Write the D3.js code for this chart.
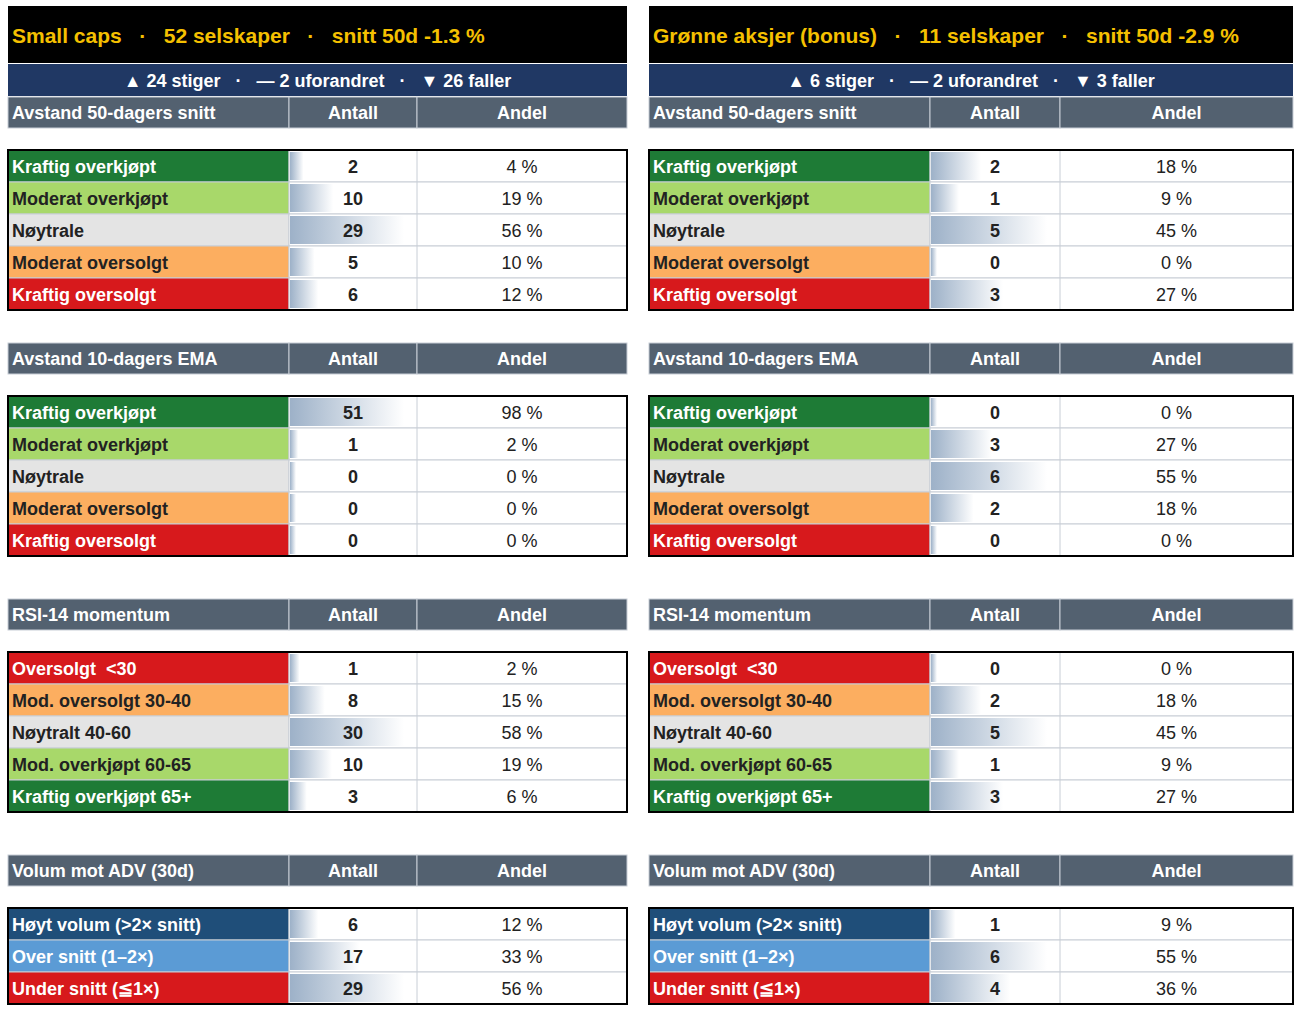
<!DOCTYPE html>
<html><head><meta charset="utf-8">
<script src="https://cdn.jsdelivr.net/npm/d3@7"></script>
<style>body{margin:0;background:#fff}text{font-family:"Liberation Sans",Arial,sans-serif}</style>
</head><body><svg id="c" width="1306" height="1036"></svg>
<script>
var titles = [
  ["Small caps", "52 selskaper", "snitt 50d -1.3 %"],
  ["Grønne aksjer (bonus)", "11 selskaper", "snitt 50d -2.9 %"]
]
var moves = [["▲ 24 stiger", "— 2 uforandret", "▼ 26 faller"], ["▲ 6 stiger", "— 2 uforandret", "▼ 3 faller"]]
var sectionNames = ["Avstand 50-dagers snitt", "Avstand 10-dagers EMA", "RSI-14 momentum", "Volum mot ADV (30d)"]
var labels50 = ["Kraftig overkjøpt", "Moderat overkjøpt", "Nøytrale", "Moderat oversolgt", "Kraftig oversolgt"]
var labelsRsi = ["Oversolgt  <30", "Mod. oversolgt 30-40", "Nøytralt 40-60", "Mod. overkjøpt 60-65", "Kraftig overkjøpt 65+"]
var labelsVol = ["Høyt volum (>2× snitt)", "Over snitt (1–2×)", "Under snitt (≦1×)"]
var colors50 = ["#1e7b36", "#a8d86a", "#e4e4e4", "#fcae60", "#d7191c"]
var colorsRsi = ["#d7191c", "#fcae60", "#e4e4e4", "#a8d86a", "#1e7b36"]
var colorsVol = ["#1f4e79", "#5b9bd5", "#d7191c"]
var leftCounts = [[2, 10, 29, 5, 6], [51, 1, 0, 0, 0], [1, 8, 30, 10, 3], [6, 17, 29]]
var leftPct = [[4, 19, 56, 10, 12], [98, 2, 0, 0, 0], [2, 15, 58, 19, 6], [12, 33, 56]]
var rightCounts = [[2, 1, 5, 0, 3], [0, 3, 6, 2, 0], [0, 2, 5, 1, 3], [1, 6, 4]]
var rightPct = [[18, 9, 45, 0, 27], [0, 27, 55, 18, 0], [0, 18, 45, 9, 27], [9, 55, 36]]

var sectionLabels = [labels50, labels50, labelsRsi, labelsVol]
var sectionColors = [colors50, colors50, colorsRsi, colorsVol]
var headerY = [97, 343, 599, 855]
var rowH = 32

var svg = d3.select("#c")
var grad = svg.append("defs").append("linearGradient").attr("id", "bg")
grad.append("stop").attr("offset", "0%").attr("stop-color", "#9db1c8")
grad.append("stop").attr("offset", "100%").attr("stop-color", "#fff")

var panels = [
  {x: [8, 289, 417, 627], counts: leftCounts, pct: leftPct},
  {x: [649, 930, 1060, 1293], counts: rightCounts, pct: rightPct}
]

panels.forEach((p, pi) => {
  var x0 = p.x[0], x3 = p.x[3]
  var g = svg.append("g")
  g.append("rect").attr("x", x0).attr("y", 6).attr("width", x3 - x0).attr("height", 57).attr("fill", "#000")
  var tt = g.append("text").attr("x", x0 + 4).attr("y", 43).attr("fill", "#f5c000")
    .style("font-size", "21px").style("font-weight", "bold").attr("xml:space", "preserve")
  tt.text(titles[pi].join("   ·   "))
  g.append("rect").attr("x", x0).attr("y", 64).attr("width", x3 - x0).attr("height", 32).attr("fill", "#203864")
  g.append("text").attr("x", (x0 + x3) / 2).attr("y", 87).attr("text-anchor", "middle").attr("fill", "#fff")
    .style("font-size", "18px").style("font-weight", "bold").attr("xml:space", "preserve")
    .text(moves[pi].join("   ·   "))

  sectionNames.forEach((name, si) => {
    var hy = headerY[si]
    var cols = [[p.x[0], p.x[1]], [p.x[1], p.x[2]], [p.x[2], p.x[3]]]
    cols.forEach((c, ci) => {
      g.append("rect").attr("x", c[0]).attr("y", hy).attr("width", c[1] - c[0]).attr("height", 31)
        .attr("fill", "#536170").attr("stroke", "#c8ced6").attr("stroke-width", 1)
      g.append("text").attr("x", ci == 0 ? c[0] + 4 : (c[0] + c[1]) / 2).attr("y", hy + 22)
        .attr("text-anchor", ci == 0 ? "start" : "middle").attr("fill", "#fff")
        .style("font-size", "18px").style("font-weight", "bold")
        .text(ci == 0 ? name : ci == 1 ? "Antall" : "Andel")
    })
    var counts = p.counts[si], pct = p.pct[si]
    var labs = sectionLabels[si], cols2 = sectionColors[si]
    var top = hy + 53
    var bar = d3.scaleLinear().domain([0, d3.max(counts)]).range([6, p.x[2] - p.x[1] - 14])
    var rows = g.append("g").selectAll("g").data(counts).enter().append("g")
      .attr("transform", (d, i) => "translate(0," + (top + i * rowH) + ")")
    rows.append("rect").attr("x", p.x[0]).attr("width", p.x[1] - p.x[0]).attr("height", rowH)
      .attr("fill", (d, i) => cols2[i]).attr("stroke", "#c8ced6")
    rows.append("rect").attr("x", p.x[1]).attr("width", p.x[3] - p.x[1]).attr("height", rowH)
      .attr("fill", "#fff").attr("stroke", "#c8ced6")
    rows.append("line").attr("x1", p.x[2]).attr("x2", p.x[2]).attr("y1", 0).attr("y2", rowH).attr("stroke", "#c8ced6")
    rows.append("rect").attr("x", p.x[1] + 1).attr("y", 2).attr("height", rowH - 4)
      .attr("width", d => bar(d)).attr("fill", "url(#bg)")
    rows.append("text").attr("x", p.x[0] + 4).attr("y", 23)
      .attr("fill", (d, i) => (cols2[i] == "#a8d86a" || cols2[i] == "#e4e4e4" || cols2[i] == "#fcae60") ? "#222" : "#fff")
      .style("font-size", "18px").style("font-weight", "bold").attr("xml:space", "preserve").text((d, i) => labs[i])
    rows.append("text").attr("x", (p.x[1] + p.x[2]) / 2).attr("y", 23).attr("text-anchor", "middle")
      .attr("fill", "#222").style("font-size", "18px").style("font-weight", "bold").text(d => d)
    rows.append("text").attr("x", (p.x[2] + p.x[3]) / 2).attr("y", 23).attr("text-anchor", "middle")
      .attr("fill", "#222").style("font-size", "18px").text((d, i) => pct[i] + " %")
    g.append("rect").attr("x", p.x[0]).attr("y", top).attr("width", x3 - x0).attr("height", counts.length * rowH)
      .attr("fill", "none").attr("stroke", "#000").attr("stroke-width", 2)
  })
})
</script></body></html>
